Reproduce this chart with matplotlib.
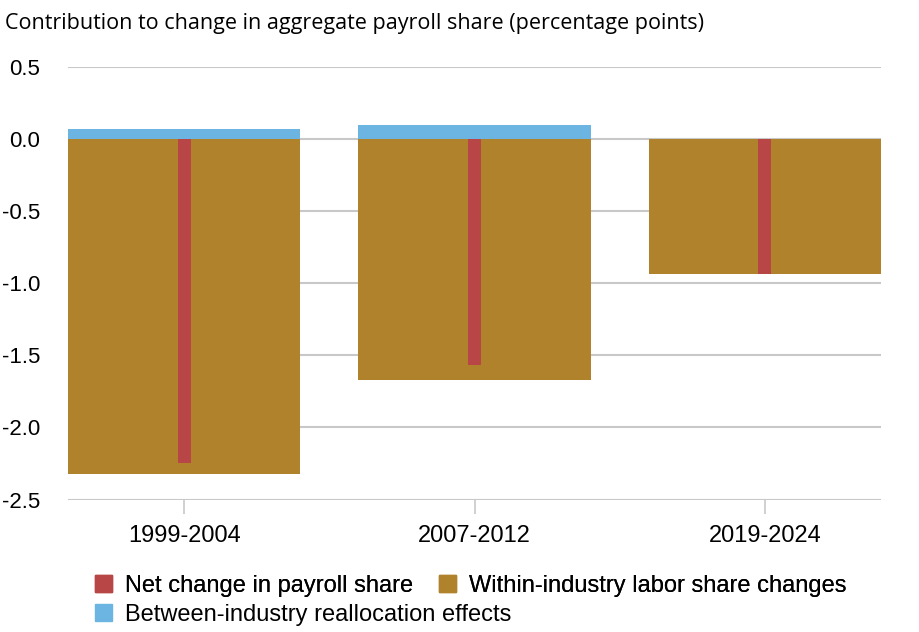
import numpy as np
import matplotlib.pyplot as plt
from matplotlib.patches import Patch

plt.rcParams['font.family'] = ['Liberation Sans', 'DejaVu Sans']

periods = ['1999-2004', '2007-2012', '2019-2024']
within = [-2.32, -1.67, -0.935]
between = [0.07, 0.10, 0.0]
net = [-2.25, -1.57, -0.935]

c_net = '#B94646'
c_within = '#B0822C'
c_between = '#6CB4E2'

fig = plt.figure(figsize=(9.2, 6.32), dpi=100)
ax = fig.add_axes([68/920, 1-499.5/632, (881-68)/920, (499.5-67)/632])

x = np.arange(len(periods))
ax.bar(x, within, width=0.8, color=c_within, zorder=2)
ax.bar(x, between, width=0.8, color=c_between, zorder=2)
ax.bar(x, net, width=0.045, color=c_net, zorder=3)

ax.set_xlim(-0.4, 2.4)
ax.set_ylim(-2.5, 0.5)
yt = np.arange(-2.5, 0.51, 0.5)
ax.set_yticks(yt)
ax.set_yticklabels(['%.1f' % v for v in yt], fontsize=16)
ax.yaxis.grid(True, color='#c8c8c8', lw=1.5, zorder=0)
ax.set_axisbelow(True)
ax.tick_params(axis='y', length=0, pad=20)

ax.set_xticks(x)
ax.set_xticklabels(periods, fontsize=17)
ax.tick_params(axis='x', length=10, width=1.2, color='#c8c8c8', pad=8)
for s in ['top', 'right', 'left', 'bottom']:
    ax.spines[s].set_visible(False)

fig.text(5/920, 1-23/632, 'Contribution to change in aggregate payroll share (percentage points)',
         fontsize=15.5, va='center', ha='left', family=['Open Sans', 'DejaVu Sans'])

# legend flows left to right like the original, so two rows built separately
leg_kw = dict(loc='upper left', frameon=False, fontsize=17, handlelength=0.72,
              handleheight=0.72, handletextpad=0.55, columnspacing=1.1,
              borderaxespad=0, borderpad=0)
row1 = [Patch(color=c_net, label='Net change in payroll share'),
        Patch(color=c_within, label='Within-industry labor share changes')]
row2 = [Patch(color=c_between, label='Between-industry reallocation effects')]
leg1 = fig.legend(handles=row1, ncol=2, bbox_to_anchor=(95/920, 1-575/632), **leg_kw)
fig.add_artist(leg1)
fig.legend(handles=row2, ncol=1, bbox_to_anchor=(95/920, 1-604/632), **leg_kw)

fig.savefig('out.png', dpi=100)
